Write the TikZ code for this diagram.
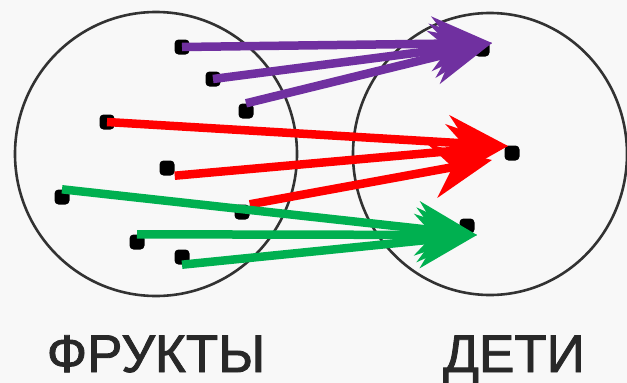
\documentclass[tikz,border=0pt]{standalone}
\usepackage{fontspec}
\setmainfont{Liberation Sans}
\newfontfamily\labelfont[FakeBold=1.6]{Liberation Sans}
\usepackage{tikz}
\usetikzlibrary{arrows.meta}
\definecolor{bg}{RGB}{248,248,248}
\definecolor{ring}{RGB}{50,50,50}
\definecolor{txt}{RGB}{40,40,40}
\definecolor{lila}{RGB}{112,48,160}
\definecolor{rot}{RGB}{255,0,0}
\definecolor{gruen}{RGB}{0,176,80}
\begin{document}
\begin{tikzpicture}[x=1pt,y=-1pt,
    dot/.style={fill=black,rounded corners=4pt,minimum size=15pt,inner sep=0pt},
    pfeil/.style={line width=8.5pt,-{Stealth[length=60pt,width=54pt,inset=20pt]}},
    titel/.style={txt,font=\labelfont\fontsize{53}{53}\selectfont,anchor=base}]
    \fill[bg] (0,0) rectangle (627,383);
    \useasboundingbox (0,0) rectangle (627,383);
    % Mengen
    \draw[ring,line width=2.6pt] (156,154) ellipse [x radius=141,y radius=142];
    \draw[ring,line width=2.6pt] (490,154) ellipse [x radius=137,y radius=141];
    \node[titel] (F) at (156,372) {ФРУКТЫ};
    \node[titel] (D) at (514,372) {ДЕТИ};
    % Punkte
    \node[dot] (f1) at (182,47) {};
    \node[dot] (f2) at (213,79) {};
    \node[dot] (f3) at (246,111) {};
    \node[dot] (f4) at (107,122) {};
    \node[dot] (f5) at (167,168) {};
    \node[dot] (f6) at (62,197) {};
    \node[dot] (f7) at (242,212) {};
    \node[dot] (f8) at (137,242) {};
    \node[dot] (f9) at (182,257) {};
    \node[dot] (d1) at (482,49) {};
    \node[dot] (d2) at (512,153) {};
    \node[dot] (d3) at (467,226) {};
    % Spitzen
    \coordinate (t1) at (492,43);
    \coordinate (t2) at (508,146);
    \coordinate (t3) at (492,160);
    \coordinate (t4) at (477,235);
    % Pfeile
    \draw[pfeil,lila] (f3.north) -- (t1);
    \draw[pfeil,lila] (f2.center) -- (t1);
    \draw[pfeil,lila] (f1.center) -- (t1);
    \draw[pfeil,rot] (f4.center) -- (t2);
    \draw[pfeil,rot] (f5.south east) -- (t2);
    \draw[pfeil,rot] (f7.north east) -- (t3);
    \draw[pfeil,gruen] (f6.north) -- (t4);
    \draw[pfeil,gruen] (f8.north) -- (t4);
    \draw[pfeil,gruen] (f9.south) -- (t4);
\end{tikzpicture}
\end{document}
